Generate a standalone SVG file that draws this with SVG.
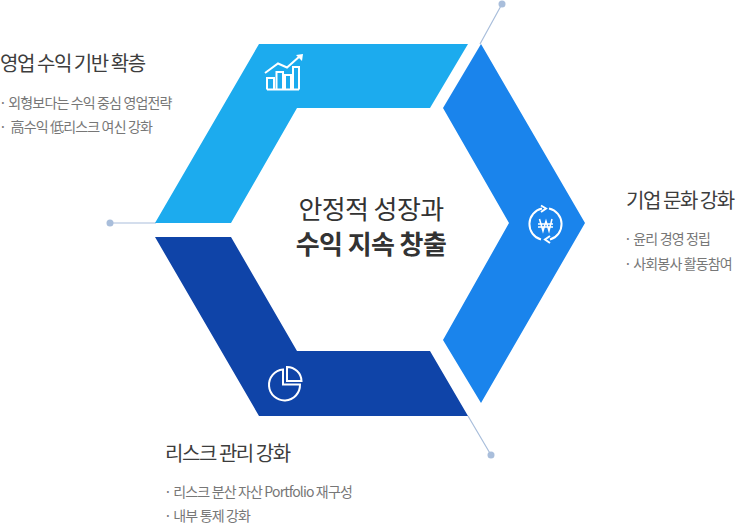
<svg xmlns="http://www.w3.org/2000/svg" width="736" height="528" viewBox="0 0 736 528">
<style>
text{font-family:"Noto Sans CJK KR","Noto Sans",sans-serif}
.h{font-size:20px;fill:#3d3d3d;letter-spacing:-1.45px}
.b{font-size:14px;fill:#777;letter-spacing:-.85px}
.c{font-size:26px;fill:#333;letter-spacing:-.6px;text-anchor:middle}
.l{stroke:#a9bedb;stroke-width:1.2;fill:none}
.d{fill:#a9bedb}
.i{fill:none;stroke:#fff;stroke-width:2}
</style>
<rect width="736" height="528" fill="#fff"/>
<g id="connectors">
<path class="l" d="M502 4L480 44M110 223H156M468 416L491 455"/>
<circle class="d" cx="502" cy="4" r="3.500"/><circle class="d" cx="110" cy="223" r="3.500"/><circle class="d" cx="491" cy="455" r="3.500"/>
</g>
<g id="node-sales">
<path fill="#1cabee" d="M259 44H468L430 108H297L231 223H155Z"/>
<g class="i"><path d="M267 89.500V78H274V89.500M276.500 89.500V72H283V89.500M285 89.500V75H291V89.500M293 89.500V67H299V89.500M267 89.500H299"/><path d="M265 73L278 63.500L287 67.500L300 56"/></g>
<path fill="#fff" d="M296 55L303 54L302 61Z"/>
<text class="h" x="0" y="71">영업 수익 기반 확층</text>
<text class="b" x="-1" y="108">· 외형보다는 수익 중심 영업전략</text>
<text class="b" x="-1" y="132" xml:space="preserve">·  高수익 低리스크 여신 강화</text>
</g>
<g id="node-culture">
<path fill="#1a84ec" d="M481 44L585 223L481 403L443 340L509 223L443 108Z"/>
<g class="i"><path d="M542 208.500A16 16 0 0 0 541 239.500M549 208.500A16 16 0 0 1 550 239.500"/><path d="M541 205.500L546 208.500L541 212M550 236L545 239.500L550 243"/><path stroke-width="1.500" d="M539.500 219L543 231L546 221L549 231L552 219M538 224H553M538 227H553"/></g>
<text class="h" x="626" y="208">기업 문화 강화</text>
<text class="b" x="624" y="244">· 윤리 경영 정립</text>
<text class="b" x="624" y="269">· 사회봉사 활동참여</text>
</g>
<g id="node-risk">
<path fill="#0f44a8" d="M155 237H231L297 351H430L468 416H259Z"/>
<g class="i"><path d="M283 369.500A15.500 15.500 0 1 0 300 384.500H283Z"/><path d="M287 367V381H301.500A14.500 14.500 0 0 0 287 367Z"/></g>
<text class="h" x="165" y="461">리스크 관리 강화</text>
<text class="b" x="164" y="497">· 리스크 분산 자산 Portfolio 재구성</text>
<text class="b" x="164" y="521">· 내부 통제 강화</text>
</g>
<g id="center">
<text class="c" x="371" y="219">안정적 성장과</text>
<text class="c" x="371" y="254" font-weight="600">수익 지속 창출</text>
</g>
</svg>
